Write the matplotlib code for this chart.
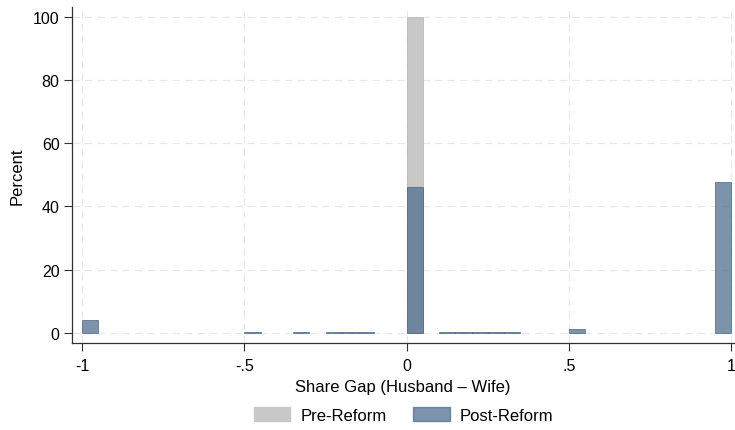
import matplotlib
matplotlib.use("Agg")
import matplotlib.pyplot as plt
from matplotlib.patches import Patch

plt.rcParams['font.family'] = ['Liberation Sans', 'DejaVu Sans']

# Histogram bins (left edges), width 0.05
bin_width = 0.05
pre_bins = [0.00]
pre_pct = [100.0]

post_bins = [-1.00, -0.50, -0.35, -0.25, -0.20, -0.15, 0.00, 0.10, 0.15, 0.20, 0.25, 0.30, 0.50, 0.95]
post_pct = [4.1, 0.2, 0.2, 0.2, 0.2, 0.2, 46.0, 0.2, 0.2, 0.2, 0.2, 0.4, 1.3, 47.6]

xticks = [-1, -0.5, 0, 0.5, 1]
xticklabels = ['-1', '-.5', '0', '.5', '1']
yticks = [0, 20, 40, 60, 80, 100]

fig = plt.figure(figsize=(7.35, 4.31), dpi=100)
ax = fig.add_axes([0.098, 0.202, 0.901, 0.779])

ax.bar(pre_bins, pre_pct, width=bin_width, align='edge', color='#c8c8c8',
       edgecolor='#b8b8b8', linewidth=0.6, zorder=2)
ax.bar(post_bins, post_pct, width=bin_width, align='edge', color='#4f6f8f',
       alpha=0.75, edgecolor='#3f5a76', linewidth=0.6, zorder=3)

ax.set_xlim(-1.031, 1.009)
ax.set_ylim(-3.2, 103)
ax.set_xticks(xticks)
ax.set_xticklabels(xticklabels)
ax.set_yticks(yticks)

for v in yticks:
    ax.axhline(v, color='#e8e8e8', linestyle=(0, (6, 4)), linewidth=0.9, zorder=1)
for v in xticks:
    ax.axvline(v, color='#e8e8e8', linestyle=(0, (6, 4)), linewidth=0.9, zorder=1)

for s in ['top', 'right']:
    ax.spines[s].set_visible(False)
for s in ['left', 'bottom']:
    ax.spines[s].set_color('#333333')
    ax.spines[s].set_linewidth(0.9)

ax.tick_params(axis='both', direction='out', length=6, width=0.8, color='#333333',
               labelsize=11.5, labelcolor='#000000')
ax.tick_params(axis='x', pad=5)
ax.tick_params(axis='y', pad=3)

ax.set_xlabel('Share Gap (Husband – Wife)', fontsize=12, labelpad=4)
ax.set_ylabel('Percent', fontsize=12, labelpad=6)

handles = [Patch(facecolor='#c8c8c8', edgecolor='#c8c8c8'),
           Patch(facecolor='#4f6f8f', alpha=0.75, edgecolor='#4f6f8f')]
fig.legend(handles, ['Pre-Reform', 'Post-Reform'], loc='center',
           bbox_to_anchor=(0.549, 0.035), ncol=2, frameon=False, fontsize=12,
           handlelength=2.2, handleheight=0.95, columnspacing=1.6, handletextpad=0.6)

fig.savefig('out.png', dpi=100)
